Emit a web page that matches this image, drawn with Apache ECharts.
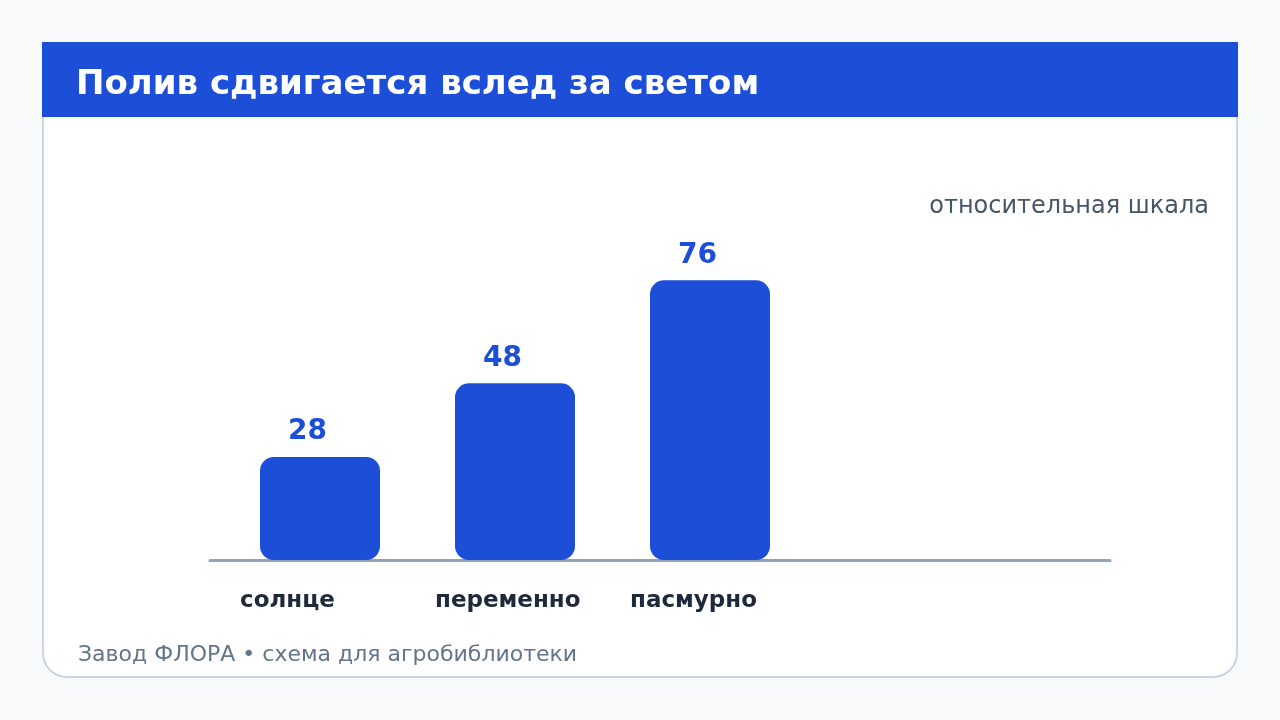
<!DOCTYPE html>
<html>
<head>
<meta charset="utf-8">
<script src="https://cdn.jsdelivr.net/npm/echarts@6/dist/echarts.min.js"></script>
<style>
html,body{margin:0;padding:0;background:#f8fafc;}
#chart{width:1280px;height:720px;}
</style>
</head>
<body>
<div id="chart"></div>
<script>
const titleText = 'Полив сдвигается вслед за светом';
const unitNote = 'относительная шкала';
const footerText = 'Завод ФЛОРА • схема для агробиблиотеки';
const categories = ['солнце', 'переменно', 'пасмурно'];
const values = [28, 48, 76];

const FONT = '"DejaVu Sans", sans-serif';
const BLUE = '#1d4ed8';

const chart = echarts.init(document.getElementById('chart'), null, {renderer: 'canvas'});
chart.setOption({
  backgroundColor: '#f8fafc',
  animation: false,
  textStyle: {fontFamily: FONT},
  graphic: [
    {type: 'rect', z: 0, shape: {x: 43, y: 43, width: 1194, height: 634, r: [0, 0, 24, 24]},
     style: {fill: '#ffffff', stroke: '#cbd5e1', lineWidth: 2}},
    {type: 'rect', z: 1, shape: {x: 42, y: 42, width: 1196, height: 75},
     style: {fill: BLUE}},
    {type: 'text', z: 2, x: 76, y: 85,
     style: {text: titleText, fill: '#ffffff', font: 'bold 34px ' + FONT, verticalAlign: 'middle'}},
    {type: 'text', z: 2, x: 1209, y: 207,
     style: {text: unitNote, fill: '#475569', font: '24px ' + FONT, align: 'right', verticalAlign: 'middle'}},
    {type: 'text', z: 2, x: 78, y: 655,
     style: {text: footerText, fill: '#64748b', font: '22px ' + FONT, verticalAlign: 'middle'}}
  ],
  grid: [
    {left: 222.5, width: 585, top: 192, bottom: 160},
    {left: 210, right: 170, top: 192, bottom: 160}
  ],
  xAxis: [
    {type: 'category', gridIndex: 0, data: categories,
     axisLine: {show: false}, axisTick: {show: false},
     axisLabel: {interval: 0, hideOverlap: false, margin: 30, color: '#1e293b', fontSize: 23, fontWeight: 'bold', fontFamily: FONT,
       formatter: v => '{a|' + v + '}',
       rich: {a: {width: 160, align: 'left', fontSize: 23, fontWeight: 'bold', color: '#1e293b', fontFamily: FONT}}}},
    {type: 'value', gridIndex: 1, min: 0, max: 1, show: true,
     axisLine: {show: true, lineStyle: {color: '#94a3b8', width: 3}},
     axisTick: {show: false}, axisLabel: {show: false}, splitLine: {show: false}}
  ],
  yAxis: [
    {type: 'value', gridIndex: 0, min: 0, max: 100, show: false},
    {type: 'value', gridIndex: 1, min: 0, max: 100, show: false}
  ],
  series: [{
    type: 'bar', xAxisIndex: 0, yAxisIndex: 0, data: values, barWidth: 120, z: 3,
    itemStyle: {color: BLUE, borderRadius: 14},
    label: {show: true, position: 'top', distance: 11, offset: [-12.5, 0],
      color: BLUE, fontSize: 28, fontWeight: 'bold', fontFamily: FONT}
  }]
});
</script>
</body>
</html>
